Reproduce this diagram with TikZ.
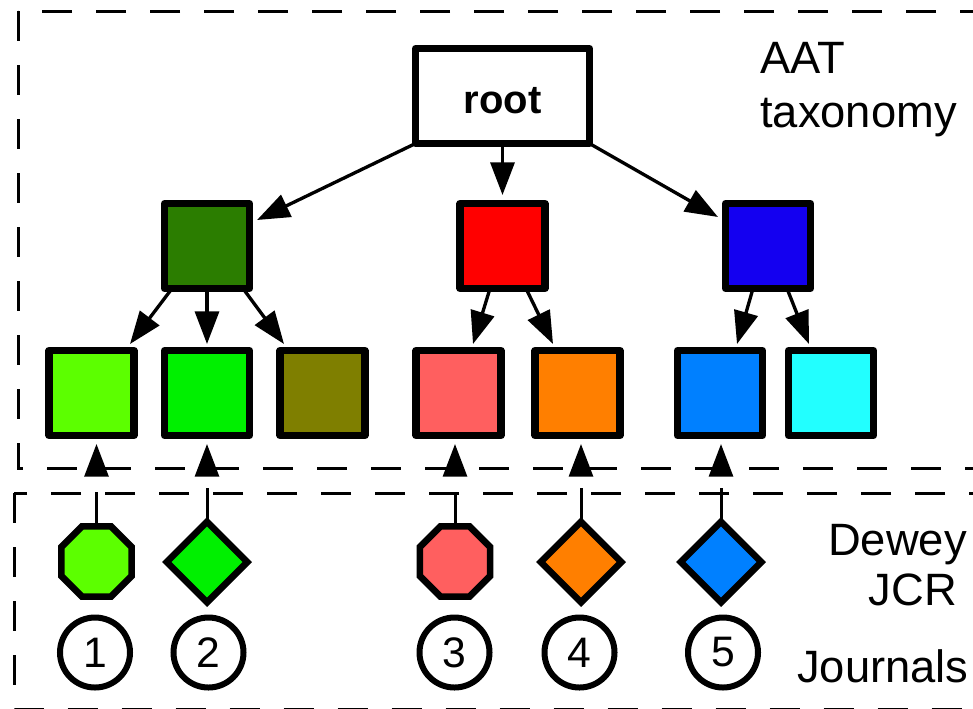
\documentclass[tikz,border=0pt]{standalone}
\usepackage{fontspec}
\setmainfont{Liberation Sans}
\usetikzlibrary{arrows.meta,shapes.geometric,calc}
\definecolor{cDG}{HTML}{2B7D00}
\definecolor{cRD}{HTML}{FF0000}
\definecolor{cBL}{HTML}{1400F0}
\definecolor{cLG}{HTML}{5CFF00}
\definecolor{cGR}{HTML}{00F000}
\definecolor{cOL}{HTML}{7F7F00}
\definecolor{cPK}{HTML}{FF5F5F}
\definecolor{cOR}{HTML}{FF7F00}
\definecolor{cB2}{HTML}{0080FF}
\definecolor{cCY}{HTML}{22FFFF}
\begin{document}
\begin{tikzpicture}[x=0.75pt,y=-0.75pt,
  sq/.style={draw=black,line width=5.4pt,line join=round,minimum size=63.75pt,inner sep=0pt,outer sep=0pt},
  rootbox/.style={draw=black,line width=5.4pt,line join=round,minimum width=130.5pt,minimum height=71.25pt,inner sep=0pt,outer sep=0pt,
    font=\fontsize{30}{30}\selectfont\bfseries,text height=25.5pt,text depth=0pt},
  oct/.style={regular polygon,regular polygon sides=8,draw=black,line width=5pt,minimum size=57pt,inner sep=0pt,outer sep=0pt},
  dia/.style={diamond,aspect=1,draw=black,line width=5pt,minimum size=60.4pt,inner sep=0pt,outer sep=0pt},
  circ/.style={circle,draw=black,line width=4.5pt,minimum size=52.5pt,inner sep=0pt,outer sep=0pt,font=\fontsize{32}{32}\selectfont},
  arr/.style={line width=2.5pt,-{Triangle[length=24.5pt,width=18pt]}},
  bar/.style={line width=2.25pt,-{Triangle[length=24.5pt,width=18pt]},dash pattern=on 25.5pt off 300pt},
  frame/.style={line width=2.25pt,dash pattern=on 22.5pt off 18pt},
  lbl/.style={font=\fontsize{34}{40}\selectfont,inner sep=0pt}]
\clip (0,0) rectangle (973,708);
% frames
\draw[frame] (18,11) rectangle (1100,468);
\draw[frame] (14,493) rectangle (1100,709.5);
% root and first level
\node[rootbox] (root) at (502.5,96) {root};
\node[sq,fill=cDG] (dg) at (207,246) {};
\node[sq,fill=cRD] (rd) at (502.5,246) {};
\node[sq,fill=cBL] (bl) at (768,246) {};
% second level
\node[sq,fill=cLG] (lg) at (91.5,393) {};
\node[sq,fill=cGR] (gr) at (207,393) {};
\node[sq,fill=cOL] (ol) at (322.5,393) {};
\node[sq,fill=cPK] (pk) at (458.5,393) {};
\node[sq,fill=cOR] (or) at (577.5,393) {};
\node[sq,fill=cB2] (b2) at (720,393) {};
\node[sq,fill=cCY] (cy) at (831,393) {};
% root arrows
\draw[arr] (root.south west) -- ($(dg.north east)+(7.5,16.5)$);
\draw[arr] (root.south) -- ($(rd.north)+(0,-8.5)$);
\draw[arr] (root.south east) -- ($(bl.north west)+(-7.5,13.5)$);
% level arrows
\draw[arr] ($(dg.south)+(-35,0)$) -- ($(lg.north)+(38.5,-6.5)$);
\draw[arr] (dg.south) -- ($(gr.north)+(0,-6.5)$);
\draw[arr] ($(dg.south)+(36,0)$) -- ($(ol.north)+(-38.5,-6.5)$);
\draw[arr] ($(rd.south)+(-12.5,0)$) -- ($(pk.north)+(14.5,-6.5)$);
\draw[arr] ($(rd.south)+(23.5,0)$) -- ($(or.north)+(-24.5,-6.5)$);
\draw[arr] ($(bl.south)+(-15,0)$) -- ($(b2.north)+(17,-6.5)$);
\draw[arr] ($(bl.south)+(19,0)$) -- ($(cy.north)+(-22,-6.5)$);
% bottom classification nodes
\node[oct,fill=cLG] (o1) at (96.5,561.5) {};
\node[dia,fill=cGR] (d2) at (207,562) {};
\node[oct,fill=cPK] (o3) at (455,561.5) {};
\node[dia,fill=cOR] (d4) at (581,562) {};
\node[dia,fill=cB2] (d5) at (721,562) {};
\draw[bar] (o1.north) -- ($(o1.north |- lg.south)+(0,8.5)$);
\draw[bar] (d2.north) -- ($(d2.north |- gr.south)+(0,8.5)$);
\draw[bar] (o3.north) -- ($(o3.north |- pk.south)+(0,8.5)$);
\draw[bar] (d4.north) -- ($(d4.north |- or.south)+(0,8.5)$);
\draw[bar] (d5.north) -- ($(d5.north |- b2.south)+(0,8.5)$);
% journals
\node[circ] (c1) at (95,652.5) {1};
\node[circ] (c2) at (208.5,652.5) {2};
\node[circ] (c3) at (454.5,652.5) {3};
\node[circ] (c4) at (579.5,652.5) {4};
\node[circ] (c5) at (723,652.5) {5};
% labels
\node[lbl,anchor=base west] (aat) at (760,73) {AAT};
\node[lbl,anchor=base west] (tax) at (760,127) {taxonomy};
\node[lbl,anchor=base east] (dew) at (967,555) {Dewey};
\node[lbl,anchor=base] (jcr) at (913,605) {JCR};
\node[lbl,anchor=base west] (jour) at (797,682) {Journals};
\end{tikzpicture}
\end{document}
